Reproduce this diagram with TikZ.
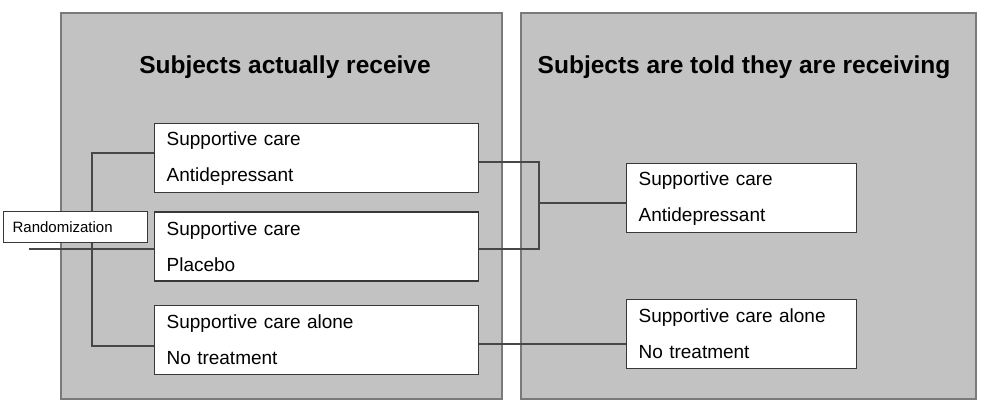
\documentclass[tikz,border=0pt]{standalone}
\usepackage{fontspec}
\setmainfont{Liberation Sans}
\usetikzlibrary{positioning,calc}

\begin{document}
\begin{tikzpicture}[x=1pt,y=-1pt,
	panel/.style={
		rectangle, draw=black!52, line width=1.6pt, fill=black!24,
		minimum height=386pt, anchor=north west
	},
	title/.style={
		font=\bfseries\fontsize{24.5}{28}\selectfont
	},
	armbox/.style={
		rectangle, draw=black!78, line width=1.3pt, fill=white,
		minimum height=69pt, inner xsep=12pt, align=left,
		font=\fontsize{19}{36}\selectfont
	},
	randbox/.style={
		rectangle, draw=black!78, line width=1.2pt, fill=white,
		minimum width=144pt, minimum height=31pt, inner xsep=9pt,
		text width=126pt, align=left,
		font=\fontsize{15}{18}\selectfont
	},
	link/.style={black!72, line width=1.5pt}
	]
	\useasboundingbox (0,0) rectangle (984,402);
	
	% Panels
	\node[panel, minimum width=441pt] (actual) at (60,12) {};
	\node[panel, minimum width=455pt] (told) at (520,12) {};
	\node[title] (actualtitle) at (285,67) {Subjects actually receive};
	\node[title] (toldtitle) at (744,67) {Subjects are told they are receiving};
	
	% what is given
	\node[armbox, text width=300pt, anchor=north west] (drug) at (154,123)
		{Supportive care\\Antidepressant};
	\node[armbox, text width=300pt, below=18pt of drug] (placebo)
		{Supportive care\\Placebo};
	\node[armbox, text width=300pt, below=23pt of placebo] (none)
		{Supportive care alone\\No treatment};
	
	% what is told
	\node[armbox, text width=206pt, anchor=north west] (tolddrug) at (626,163)
		{Supportive care\\Antidepressant};
	\node[armbox, text width=206pt, anchor=north west] (toldnone) at (626,299)
		{Supportive care alone\\No treatment};
	
	% randomization fork
	\coordinate (forktop) at (92,153);
	\coordinate (forkbot) at (92,346);
	\coordinate (randin) at (29,249);
	\draw[link] (drug.west |- forktop) -- (forktop) -- (forkbot) -- (none.west |- forkbot);
	\draw[link] (randin) -- (placebo.west |- randin);
	
	% merge to told arms
	\coordinate (merge) at (539,162);
	\coordinate (mergeout) at (539,203);
	\coordinate (aloneline) at (539,344);
	\draw[link] (drug.east |- merge) -- (merge) -- (merge |- randin) -- (placebo.east |- randin);
	\draw[link] (mergeout) -- (tolddrug.west |- mergeout);
	\draw[link] (none.east |- aloneline) -- (toldnone.west |- aloneline);
	
	% Randomization
	\node[randbox, anchor=north west] (rand) at (3,211) {Randomization};
\end{tikzpicture}
\end{document}
